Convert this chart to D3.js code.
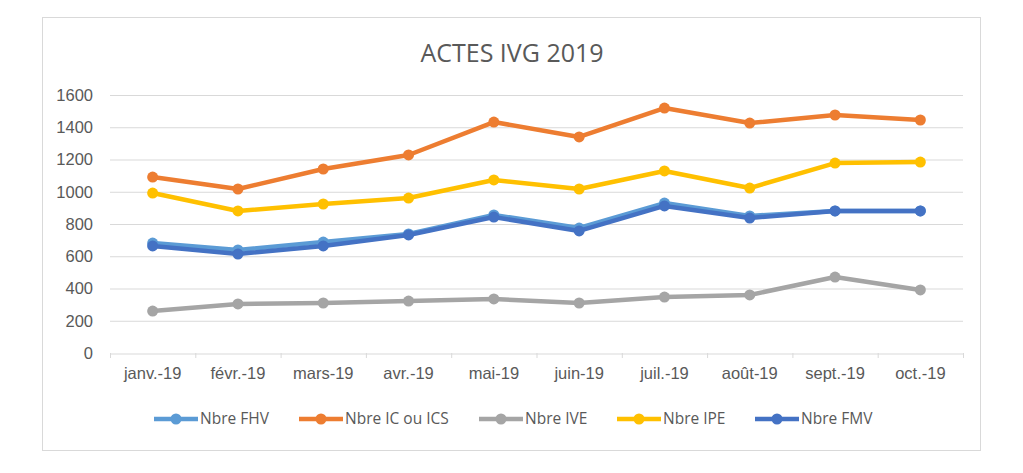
<!DOCTYPE html>
<html>
<head>
<meta charset="utf-8">
<script src="https://cdn.jsdelivr.net/npm/d3@7"></script>
<style>
  body { margin: 0; background: #fff; }
  svg { display: block; font-family: "Open Sans", "Noto Sans", sans-serif; }
</style>
</head>
<body>
<div id="chart"></div>
<script>
const months = ["janv.-19", "févr.-19", "mars-19", "avr.-19", "mai-19", "juin-19", "juil.-19", "août-19", "sept.-19", "oct.-19"];
const seriesNames = ["Nbre FHV", "Nbre IC ou ICS", "Nbre IVE", "Nbre IPE", "Nbre FMV"];
const fhv = [682, 639, 688, 738, 856, 775, 930, 850, 881, 881];
const icIcs = [1091, 1017, 1141, 1228, 1432, 1340, 1519, 1426, 1476, 1445];
const ive = [260, 304, 310, 322, 335, 310, 347, 360, 471, 391];
const ipe = [992, 881, 924, 961, 1073, 1017, 1129, 1023, 1178, 1184];
const fmv = [664, 614, 664, 732, 843, 757, 912, 837, 881, 881];
const yTicks = [0, 200, 400, 600, 800, 1000, 1200, 1400, 1600];

const colors = ["#5B9BD5", "#ED7D31", "#A5A5A5", "#FFC000", "#4472C4"];
const series = [fhv, icIcs, ive, ipe, fmv].map((values, i) => ({ name: seriesNames[i], values, color: colors[i] }));

const width = 1023, height = 473;
const marginLeft = 110, marginRight = 60, marginTop = 95, marginBottom = 120;

const svg = d3.select("#chart").append("svg")
  .attr("width", width)
  .attr("height", height);

// chart frame
svg.append("rect")
  .attr("x", 42.5).attr("y", 17.5)
  .attr("width", 938).attr("height", 433)
  .attr("fill", "#fff")
  .attr("stroke", "#d9d9d9");

const x = d3.scaleBand()
  .domain(months)
  .range([marginLeft, width - marginRight]);

const y = d3.scaleLinear()
  .domain([0, 1600])
  .range([height - marginBottom, marginTop]);

// gridlines
svg.append("g")
  .selectAll("line")
  .data(yTicks.filter(d => d > 0))
  .join("line")
  .attr("x1", marginLeft).attr("x2", width - marginRight)
  .attr("y1", d => y(d) + 0.5).attr("y2", d => y(d) + 0.5)
  .attr("stroke", "#d9d9d9");

// y axis
svg.append("g")
  .attr("transform", `translate(${marginLeft},0)`)
  .call(d3.axisLeft(y).tickValues(yTicks).tickFormat(d3.format("d")).tickSize(0).tickPadding(17))
  .call(g => g.select(".domain").remove())
  .call(g => g.selectAll("text").attr("fill", "#595959").attr("font-size", "16.5px"));

// x axis
svg.append("g")
  .attr("transform", `translate(0,${y(0) + 0.5})`)
  .call(d3.axisBottom(x).tickSize(0).tickPadding(14))
  .call(g => g.select(".domain").attr("stroke", "#d9d9d9"))
  .call(g => g.selectAll("text").attr("fill", "#595959").attr("font-size", "16.5px"));

// x tick marks at band edges
svg.append("g")
  .selectAll("line")
  .data(months.concat(["end"]))
  .join("line")
  .attr("x1", (d, i) => marginLeft + i * x.step() + 0.5)
  .attr("x2", (d, i) => marginLeft + i * x.step() + 0.5)
  .attr("y1", y(0)).attr("y2", y(0) + 5)
  .attr("stroke", "#d9d9d9");

const line = d3.line()
  .x((d, i) => x(months[i]) + x.bandwidth() / 2)
  .y(d => y(d));

// series
const sg = svg.append("g")
  .selectAll("g")
  .data(series)
  .join("g");

sg.append("path")
  .attr("d", d => line(d.values))
  .attr("fill", "none")
  .attr("stroke", d => d.color)
  .attr("stroke-width", 4.5)
  .attr("stroke-linejoin", "round");

sg.selectAll("circle")
  .data(d => d.values.map(v => ({ v, color: d.color })))
  .join("circle")
  .attr("cx", (d, i) => x(months[i]) + x.bandwidth() / 2)
  .attr("cy", d => y(d.v))
  .attr("r", 5.5)
  .attr("fill", d => d.color);

// title
svg.append("text")
  .attr("x", 512)
  .attr("y", 62)
  .attr("text-anchor", "middle")
  .attr("font-size", "25px")
  .attr("fill", "#595959")
  .text("ACTES IVG 2019");

// legend
const legendX = [154, 299, 479, 617, 755];
const legend = svg.append("g")
  .selectAll("g")
  .data(series)
  .join("g")
  .attr("transform", (d, i) => `translate(${legendX[i]},419)`);

legend.append("line")
  .attr("x1", 0).attr("x2", 44)
  .attr("stroke", d => d.color)
  .attr("stroke-width", 4.5);

legend.append("circle")
  .attr("cx", 22).attr("r", 5.5)
  .attr("fill", d => d.color);

legend.append("text")
  .attr("x", 46)
  .attr("dy", "0.35em")
  .attr("font-size", "15.5px")
  .attr("fill", "#595959")
  .text(d => d.name);
</script>
</body>
</html>
